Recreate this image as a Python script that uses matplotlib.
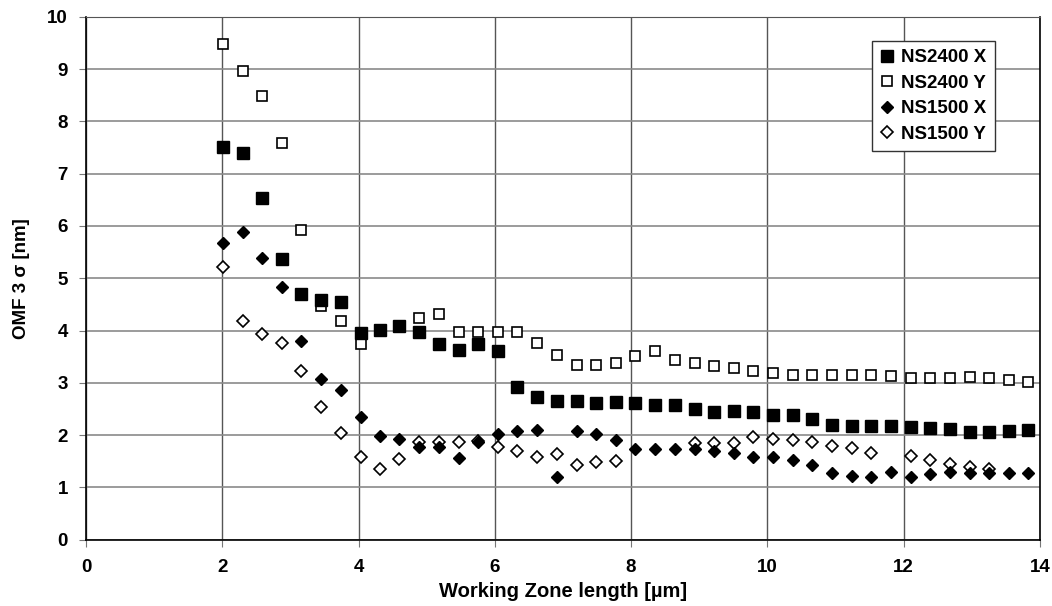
import numpy as np
import matplotlib
matplotlib.use("Agg")
import matplotlib.pyplot as plt

plt.rcParams['font.family'] = ['Liberation Sans', 'DejaVu Sans']
plt.rcParams['font.weight'] = 'bold'

nan = np.nan

# working zone length [um]
zone_length = [2.01, 2.30, 2.59, 2.87, 3.16, 3.45, 3.74, 4.03, 4.32, 4.60,
               4.89, 5.18, 5.47, 5.76, 6.05, 6.33, 6.62, 6.91, 7.20, 7.49,
               7.78, 8.06, 8.35, 8.64, 8.93, 9.22, 9.51, 9.79, 10.08, 10.37,
               10.66, 10.95, 11.24, 11.52, 11.81, 12.10, 12.39, 12.68, 12.97, 13.25,
               13.54, 13.83]

ns2400_x = [7.50, 7.39, 6.54, 5.37, 4.69, 4.58, 4.54, 3.95, 4.01, 4.09,
            3.97, 3.74, 3.63, 3.75, 3.61, 2.92, 2.72, 2.65, 2.65, 2.62,
            2.64, 2.62, 2.57, 2.57, 2.50, 2.44, 2.46, 2.44, 2.38, 2.38,
            2.30, 2.19, 2.18, 2.18, 2.17, 2.15, 2.14, 2.12, 2.05, 2.05,
            2.07, 2.10]

ns2400_y = [9.48, 8.97, 8.49, 7.58, 5.92, 4.46, 4.18, 3.75, nan, nan,
            4.23, 4.32, 3.97, 3.97, 3.97, 3.97, 3.77, 3.54, 3.35, 3.35,
            3.38, 3.51, 3.60, 3.44, 3.38, 3.33, 3.29, 3.23, 3.19, 3.14,
            3.14, 3.15, 3.14, 3.15, 3.13, 3.10, 3.09, 3.09, 3.11, 3.10,
            3.05, 3.02]

ns1500_x = [5.67, 5.88, 5.39, 4.83, 3.79, 3.08, 2.87, 2.35, 1.98, 1.93,
            1.77, 1.77, 1.56, 1.86, 2.02, 2.08, 2.10, 1.20, 2.08, 2.02,
            1.90, 1.73, 1.73, 1.73, 1.73, 1.69, 1.66, 1.59, 1.59, 1.52,
            1.42, 1.28, 1.22, 1.20, 1.30, 1.20, 1.26, 1.30, 1.27, 1.28,
            1.27, 1.27]

ns1500_y = [5.21, 4.19, 3.93, 3.76, 3.23, 2.54, 2.04, 1.59, 1.35, 1.55,
            1.87, 1.87, 1.87, 1.89, 1.77, 1.70, 1.59, 1.63, 1.42, 1.49,
            1.50, nan, nan, nan, 1.84, 1.85, 1.85, 1.96, 1.92, 1.91,
            1.86, 1.80, 1.75, 1.66, nan, 1.61, 1.52, 1.45, 1.39, 1.35,
            nan, nan]

fig = plt.figure(figsize=(10.52, 6.06), dpi=100)
ax = fig.add_axes([0.0817, 0.1094, 0.9069, 0.863])

# X series drawn above Y series (they cover them where they overlap)
ax.plot(zone_length, ns2400_x, 's', ms=8, mfc='black', mec='black', mew=1, label='NS2400 X', zorder=4)
ax.plot(zone_length, ns2400_y, 's', ms=7.6, mfc='white', mec='black', mew=1.2, label='NS2400 Y', zorder=3)
ax.plot(zone_length, ns1500_x, 'D', ms=6.2, mfc='black', mec='black', mew=1, label='NS1500 X', zorder=4)
ax.plot(zone_length, ns1500_y, 'D', ms=5.8, mfc='white', mec='black', mew=1.2, label='NS1500 Y', zorder=3)

ax.set_xlim(0, 14)
ax.set_ylim(0, 10)
ax.set_xticks(range(0, 15, 2))
ax.set_yticks(range(0, 11))
ax.xaxis.grid(True, color='#555555', linewidth=1)
ax.yaxis.grid(True, color='#8a8a8a', linewidth=1.2)
ax.set_axisbelow(True)

for side in ['left', 'right', 'bottom']:
  ax.spines[side].set_color('black')
  ax.spines[side].set_linewidth(1.2)
ax.spines['top'].set_color('#555555')

ax.tick_params(axis='both', direction='out', length=5, color='#777777', labelsize=13.5)
ax.tick_params(axis='y', pad=8)
ax.tick_params(axis='x', pad=9)

ax.set_xlabel('Working Zone length [µm]', fontsize=14.5, fontweight='bold', labelpad=4)
ax.set_ylabel('OMF 3 σ [nm]', fontsize=13.5, fontweight='bold', labelpad=12)

leg = ax.legend(loc='upper right', bbox_to_anchor=(0.953, 0.954), borderaxespad=0,
                fancybox=False, edgecolor='#333333', framealpha=1,
                handlelength=0.7, handletextpad=0.4, labelspacing=0.45,
                borderpad=0.45, prop={'weight': 'bold', 'size': 13.5})
leg.get_frame().set_linewidth(1)

plt.savefig('out.png', dpi=100)
